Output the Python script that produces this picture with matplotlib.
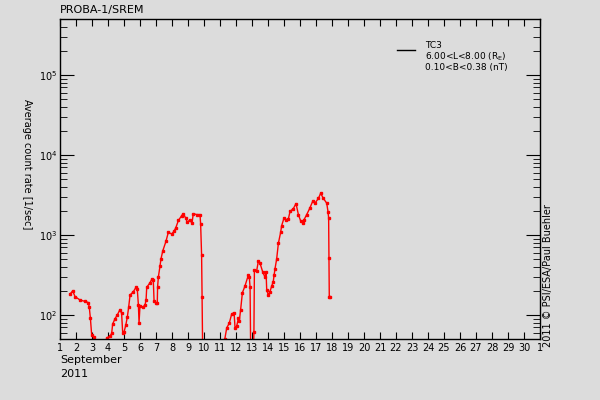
import numpy as np
import matplotlib.pyplot as plt
from matplotlib.ticker import LogLocator, FixedLocator, NullFormatter

bg = '#dcdcdc'

# day of September 2011 (fractional) and average count rate [1/sec]
day = [1.62, 1.79, 1.94, 2.25, 2.56, 2.77, 2.83, 2.9, 2.98, 3.12, 3.21, 3.4,
       3.8, 3.92, 4.12, 4.23, 4.29, 4.44, 4.58, 4.75, 4.85, 4.92, 5.0, 5.12,
       5.21, 5.29, 5.38, 5.58, 5.75, 5.83, 5.9, 5.94, 6.0, 6.17, 6.31, 6.38,
       6.42, 6.62, 6.73, 6.83, 6.88, 7.0, 7.08, 7.1, 7.15, 7.25, 7.31, 7.42,
       7.62, 7.77, 7.98, 8.12, 8.23, 8.4, 8.6, 8.71, 8.85, 8.96, 9.12, 9.25,
       9.33, 9.54, 9.75, 9.79, 9.85, 9.88, 9.92, 11.25, 11.3, 11.42, 11.58,
       11.73, 11.88, 11.94, 12.04, 12.15, 12.21, 12.29, 12.4, 12.56, 12.77,
       12.83, 12.88, 12.92, 13.08, 13.12, 13.15, 13.29, 13.4, 13.5, 13.67,
       13.81, 13.88, 13.92, 14.02, 14.12, 14.23, 14.33, 14.38, 14.44, 14.54,
       14.65, 14.79, 14.85, 15.0, 15.12, 15.27, 15.38, 15.58, 15.75, 15.9,
       16.04, 16.17, 16.25, 16.42, 16.62, 16.79, 16.94, 17.15, 17.29, 17.46,
       17.67, 17.75, 17.79, 17.81, 17.83, 17.88]
rate = [182, 200, 170, 154, 148, 143, 125, 91, 56, 53, 45, 35,
        35, 52, 54, 59, 77, 90, 100, 117, 105, 59, 61, 76,
        95, 125, 178, 195, 222, 210, 133, 80, 130, 125, 133, 154,
        222, 252, 278, 274, 148, 141, 141, 226, 300, 410, 500, 630,
        830, 1080, 1030, 1110, 1220, 1520, 1740, 1850, 1630, 1440, 1550, 1400,
        1850, 1800, 1800, 1370, 560, 166, 30, 30, 50, 69, 79,
        103, 107, 69, 72, 91, 85, 117, 190, 230, 315,
        300, 222, 30, 30, 61, 360, 355, 475, 445, 345,
        297, 340, 205, 178, 195, 230, 262, 315, 380, 500,
        790, 1080, 1300, 1630, 1550, 1580, 1980, 2130, 2470, 1800,
        1500, 1420, 1550, 1800, 2180, 2630, 2500, 2870, 3320, 2870,
        2500, 1960, 1630, 510, 170, 170]

day_ticks = list(range(1, 32))
day_labels = [str(d) for d in range(1, 31)] + ['1']

fig = plt.figure(figsize=(6, 4), dpi=100, facecolor=bg)
ax = fig.add_axes([0.1, 0.1525, 0.8, 0.8], facecolor=bg)

ax.plot(day, rate, color='red', lw=1, marker='s', ms=2, mec='red')

ax.set_yscale('log')
ax.set_xlim(1, 31)
ax.set_ylim(10**1.7, 10**5.7)

ax.xaxis.set_major_locator(FixedLocator(day_ticks))
ax.set_xticklabels(day_labels)
ax.yaxis.set_major_locator(LogLocator(base=10))
ax.yaxis.set_minor_locator(LogLocator(base=10, subs=np.arange(2, 10)))
ax.yaxis.set_minor_formatter(NullFormatter())

ax.tick_params(which='both', direction='in', top=True, right=True,
               labelsize=7, colors='black')
ax.tick_params(axis='x', which='major', length=5, pad=3)
ax.tick_params(axis='y', which='major', length=10, pad=2)
ax.tick_params(axis='y', which='minor', length=5)
for s in ax.spines.values():
    s.set_linewidth(1)

fig.text(0.1, 0.975, 'PROBA-1/SREM', fontsize=8, ha='left', va='center')
fig.text(0.045, 0.59, 'Average count rate [1/sec]', fontsize=7,
         rotation=-90, ha='center', va='center')
fig.text(0.1, 0.1, 'September', fontsize=8, ha='left', va='center')
fig.text(0.1, 0.065, '2011', fontsize=8, ha='left', va='center')
fig.text(0.913, 0.31, '2011 \u00a9 PSI/ESA/Paul Buehler', fontsize=7,
         rotation=90, ha='center', va='center')

# legend
ax.plot([0.702, 0.74], [0.903, 0.903], color='black', lw=1,
        transform=ax.transAxes)
ax.text(0.76, 0.917, 'TC3', fontsize=6.5, transform=ax.transAxes,
        va='center', ha='left')
ax.text(0.76, 0.883, '6.00<L<8.00 (R$_\\mathregular{E}$)', fontsize=6.5,
        transform=ax.transAxes, va='center', ha='left')
ax.text(0.76, 0.847, '0.10<B<0.38 (nT)', fontsize=6.5,
        transform=ax.transAxes, va='center', ha='left')

fig.savefig('out.png', dpi=100, facecolor=bg)
